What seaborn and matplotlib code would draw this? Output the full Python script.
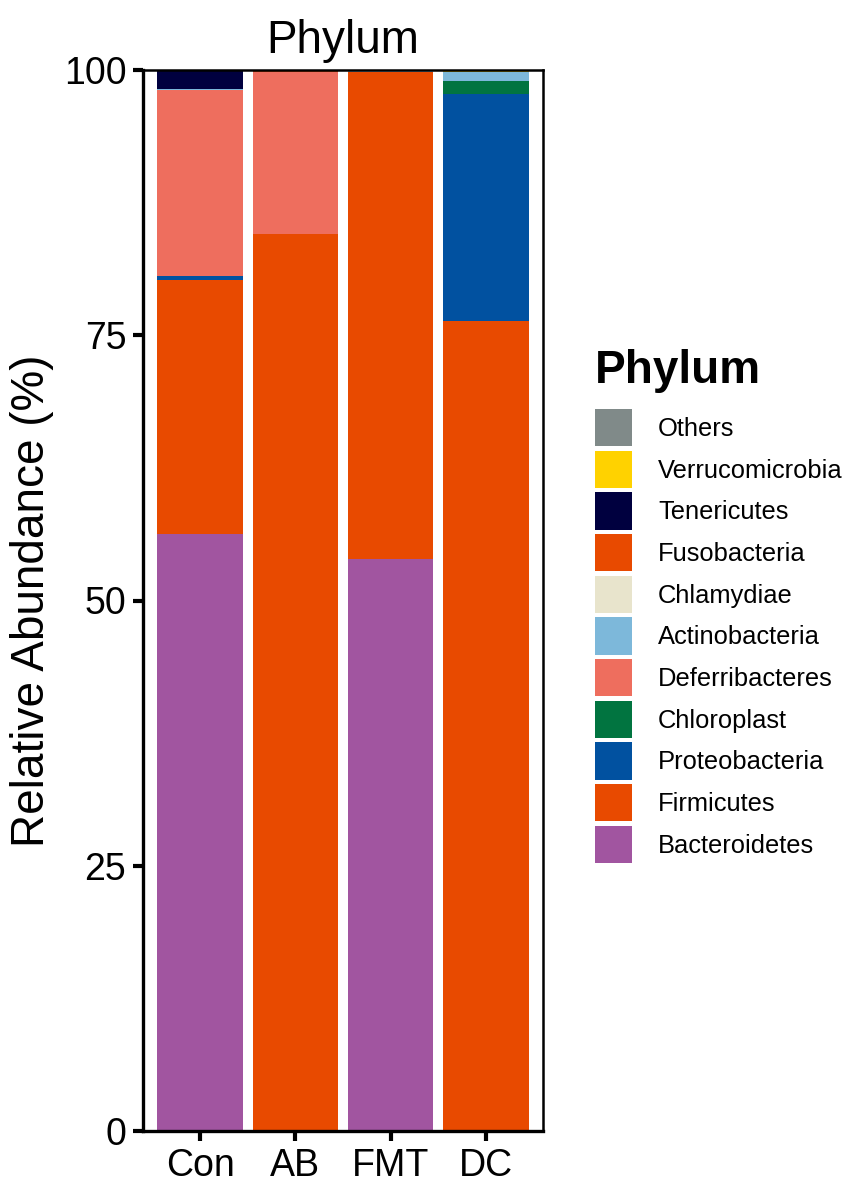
import matplotlib
matplotlib.use("Agg")
import matplotlib.pyplot as plt
from matplotlib.patches import Patch
import seaborn as sns
import pandas as pd

groups = ["Con", "AB", "FMT", "DC"]
phyla = ["Others", "Verrucomicrobia", "Tenericutes", "Fusobacteria", "Chlamydiae",
         "Actinobacteria", "Deferribacteres", "Chloroplast", "Proteobacteria",
         "Firmicutes", "Bacteroidetes"]
colors = ["#808A89", "#FFD200", "#00003F", "#E84A00", "#E8E4CC",
          "#7DB8DA", "#EE6E5E", "#017440", "#0151A0", "#E84A00", "#A155A0"]

bacteroidetes = [56.3, 0.0, 53.9, 0.0]
firmicutes = [23.9, 84.5, 45.95, 76.3]
proteobacteria = [0.35, 0.0, 0.0, 21.4]
chloroplast = [0.0, 0.0, 0.0, 1.3]
deferribacteres = [17.6, 15.35, 0.0, 0.0]
actinobacteria = [0.05, 0.0, 0.05, 0.85]
chlamydiae = [0.0, 0.0, 0.0, 0.0]
fusobacteria = [0.0, 0.08, 0.0, 0.0]
tenericutes = [1.75, 0.0, 0.0, 0.0]
verrucomicrobia = [0.05, 0.07, 0.05, 0.1]
others = [0.0, 0.0, 0.0, 0.0]

values = {
    "Others": others, "Verrucomicrobia": verrucomicrobia, "Tenericutes": tenericutes,
    "Fusobacteria": fusobacteria, "Chlamydiae": chlamydiae, "Actinobacteria": actinobacteria,
    "Deferribacteres": deferribacteres, "Chloroplast": chloroplast,
    "Proteobacteria": proteobacteria, "Firmicutes": firmicutes, "Bacteroidetes": bacteroidetes,
}

rows = []
for gi, g in enumerate(groups):
    for p in phyla:
        rows.append({"Group": g, "Phylum": p, "Abundance": values[p][gi]})
df = pd.DataFrame(rows)

sns.set_theme(style="white")
plt.rcParams["font.family"] = ["Liberation Sans", "DejaVu Sans"]
plt.rcParams["text.color"] = "black"

fig = plt.figure(figsize=(8.5, 11.86), dpi=100)
ax = fig.add_axes([143 / 850, 1 - 1131 / 1186, 400 / 850, (1131 - 70) / 1186])

sns.histplot(data=df, x="Group", weights="Abundance", hue="Phylum", hue_order=phyla,
             palette=dict(zip(phyla, colors)), multiple="stack", discrete=True,
             shrink=0.9, linewidth=0, alpha=1, legend=False, ax=ax)

ax.set_xlim(-0.6, 3.6)
ax.set_ylim(0, 100)
ax.set_yticks([0, 25, 50, 75, 100])
ax.set_xticks(range(len(groups)))
ax.set_xticklabels(groups)
ax.set_xlabel("")
ax.set_ylabel("Relative Abundance (%)", fontsize=33, labelpad=7, color="black")
ax.set_title("Phylum", fontsize=33, pad=12, color="black")
ax.tick_params(axis="both", which="major", labelsize=27, length=7, width=3,
               color="black", labelcolor="black", pad=5, bottom=True, left=True)
for side, sp in ax.spines.items():
    sp.set_color("black")
    sp.set_linewidth(2.4 if side in ("left", "bottom") else 1.8)
    sp.set_visible(True)

# legend title placed as text, entries as legend
fig.text(595 / 850, 1 - 349 / 1186, "Phylum", fontsize=33, fontweight="bold",
         color="black", ha="left", va="top")
handles = [Patch(facecolor=c, edgecolor="none", label=p) for p, c in zip(phyla, colors)]
leg = fig.legend(handles=handles, loc="upper left",
                 bbox_to_anchor=(595 / 850, 1 - 409 / 1186), frameon=False,
                 fontsize=18.4, handlelength=1.45, handleheight=1.87,
                 labelspacing=0.17, handletextpad=1.02, borderpad=0,
                 borderaxespad=0, labelcolor="black")

fig.savefig("out.png", dpi=100)
